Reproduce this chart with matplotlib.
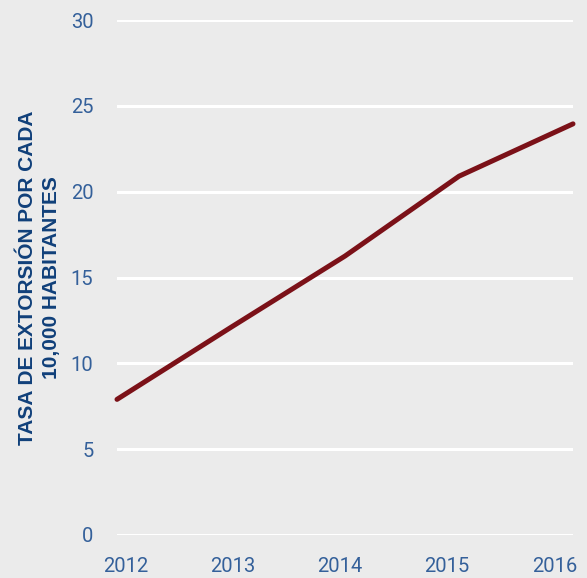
import matplotlib.pyplot as plt
from matplotlib.transforms import ScaledTranslation

years = [2012, 2013, 2014, 2015, 2016]
rates = [7.9, 12.1, 16.25, 20.9, 23.95]
yticks = [0, 5, 10, 15, 20, 25, 30]
ylabel = "TASA DE EXTORSIÓN POR CADA\n10,000 HABITANTES"

BG = "#ebebeb"
LINE = "#7b1118"
TICK = "#34609a"
LABEL = "#10407a"

plt.rcParams["font.family"] = ["Roboto", "DejaVu Sans"]

fig = plt.figure(figsize=(5.87, 5.78), dpi=100, facecolor=BG)
ax = fig.add_axes([117 / 587, 43 / 578, 456 / 587, 515 / 578], facecolor=BG)

ax.plot(years, rates, color=LINE, linewidth=3.6, solid_capstyle="round", zorder=3, clip_on=False)

ax.set_xlim(2012, 2016)
ax.set_ylim(0, 30)
ax.set_yticks(yticks)
ax.set_xticks(years)
ax.set_xticklabels([str(y) for y in years])
ax.grid(axis="y", color="white", linewidth=2.2)
ax.set_axisbelow(True)
for s in ax.spines.values():
    s.set_visible(False)

ax.tick_params(axis="both", length=0, labelsize=14.5, labelcolor=TICK)
ax.tick_params(axis="y", pad=17)
ax.tick_params(axis="x", pad=16)

# labels in the source are spread a bit tighter than the data points
shifts = [6, 1, -4, -8.5, -13]
for lab, dx in zip(ax.get_xticklabels(), shifts):
    lab.set_transform(lab.get_transform() + ScaledTranslation(dx / 72, 0, fig.dpi_scale_trans))

ax.set_ylabel(ylabel, fontsize=15, fontweight="bold", color=LABEL,
              linespacing=1.3, family=["Liberation Sans", "DejaVu Sans"])
ax.yaxis.set_label_coords(-0.123, 0.5)

fig.savefig("out.png", dpi=100, facecolor=BG)
